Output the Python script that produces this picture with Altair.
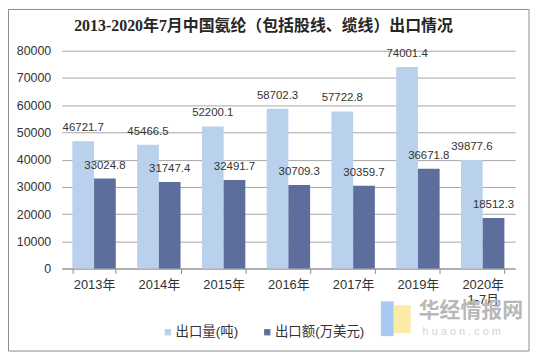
import altair as alt
import pandas as pd

categories = ["2013年", "2014年", "2015年", "2016年", "2017年", "2019年", "2020年1-7月"]
series_names = ["出口量(吨)", "出口额(万美元)"]
export_volume = [46721.7, 45466.5, 52200.1, 58702.3, 57722.8, 74001.4, 39877.6]
export_value = [33024.8, 31747.4, 32491.7, 30709.3, 30359.7, 36671.8, 18512.3]
y_ticks = [0, 10000, 20000, 30000, 40000, 50000, 60000, 70000, 80000]
title_text = "2013-2020年7月中国氨纶（包括股线、缆线）出口情况"
colors = ["#B9D1EC", "#5D6D9C"]

rows = []
for i, c in enumerate(categories):
    rows.append({"cat": c, "series": series_names[0], "val": export_volume[i], "label": f"{export_volume[i]:.1f}"})
    rows.append({"cat": c, "series": series_names[1], "val": export_value[i], "label": f"{export_value[i]:.1f}"})
df = pd.DataFrame(rows)

W, H = 456, 219
FONT = "Liberation Sans, Noto Sans CJK SC"

x_enc = alt.X("cat:N", sort=categories, title=None,
              scale=alt.Scale(paddingInner=0.33, paddingOuter=0.165),
              axis=alt.Axis(tickBand="extent", labelAngle=0, tickSize=5, domainColor="#8c8c8c",
                            tickColor="#8c8c8c", labelFont=FONT, labelFontSize=13, labelColor="#333333",
                            labelPadding=5,
                            labelExpr="datum.value == '2020年1-7月' ? ['2020年', '1-7月'] : datum.value"))
y_enc = alt.Y("val:Q", title=None,
              scale=alt.Scale(domain=[0, 80000], nice=False),
              axis=alt.Axis(values=y_ticks, tickCount=9, format="d", labelOverlap=False,
                            domain=False, ticks=False, labelPadding=11,
                            gridColor="#a6a6a6", labelFont=FONT, labelFontSize=12.5,
                            labelColor="#333333"))
xoff = alt.XOffset("series:N", sort=series_names)

bars = alt.Chart(df).mark_bar().encode(
    x=x_enc, y=y_enc, xOffset=xoff,
    color=alt.Color("series:N", sort=series_names,
                    scale=alt.Scale(domain=series_names, range=colors),
                    legend=alt.Legend(title=None, orient="none", direction="horizontal",
                                      legendX=100, legendY=276, symbolType="square",
                                      symbolSize=40, symbolStrokeWidth=0, labelFont=FONT,
                                      labelFontSize=13.5, labelColor="#333333",
                                      labelOffset=1, columnPadding=22)),
)

labels = alt.Chart(df).mark_text(baseline="middle", dy=-13, fontSize=11.5, font=FONT,
                                 color="#333333").encode(
    x=alt.X("cat:N", sort=categories), y="val:Q", xOffset=xoff, text="label:N")

one = pd.DataFrame({"k": [0]})
border = alt.Chart(one).mark_rect(fill="transparent", stroke="#8c8c8c", strokeWidth=1).encode(
    x=alt.value(-53.5), x2=alt.value(470), y=alt.value(-41.5), y2=alt.value(302))

title = alt.Chart(one).mark_text(text=title_text, fontSize=16, fontWeight="bold",
                                 font="Liberation Serif, Noto Sans CJK SC", color="#262626",
                                 align="center", baseline="middle").encode(
    x=alt.value(203), y=alt.value(-25))

logo_blue = alt.Chart(one).mark_rect(color="#A9C9F2").encode(
    x=alt.value(321), x2=alt.value(334), y=alt.value(252), y2=alt.value(287))
logo_yellow = alt.Chart(one).mark_rect(color="#FBEBA8").encode(
    x=alt.value(334), x2=alt.value(351), y=alt.value(256), y2=alt.value(284))
wm1 = alt.Chart(one).mark_text(text="华经情报网", fontSize=21, fontWeight="bold",
                               font="Noto Sans CJK SC", color="#b8b8b8", align="left",
                               baseline="middle").encode(x=alt.value(359), y=alt.value(262))
wm2 = alt.Chart(one).mark_text(text="h u a o n . c o m", fontSize=11, font=FONT,
                               color="#d2d2d2", align="left",
                               baseline="middle").encode(x=alt.value(363), y=alt.value(283))

chart = alt.layer(border, bars, labels, title, logo_blue, logo_yellow, wm1, wm2).properties(
    width=W, height=H,
    autosize=alt.AutoSizeParams(type="none"),
    padding={"left": 54, "top": 42, "right": 15, "bottom": 84},
).configure_view(stroke=None)

chart.save("out.html", embed_options={"renderer": "svg", "actions": False})
